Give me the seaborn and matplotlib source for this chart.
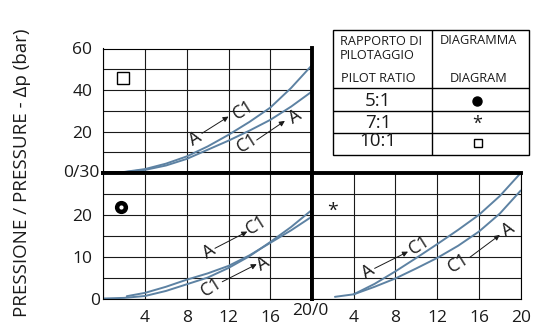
import matplotlib
matplotlib.use("Agg")
import matplotlib.pyplot as plt
from matplotlib.patches import Rectangle
import seaborn as sns

# --- curve data (x = flow, y = pressure) ---
# 10:1 diagram (upper left, y 0..60)
ul_x = [0, 2, 4, 6, 8, 10, 12, 14, 16, 18, 20]
ul_upper = [0, 0.5, 1.9, 4.5, 8.0, 12.8, 18.4, 24.6, 31.5, 41.0, 52.0]
ul_lower = [0, 0.4, 1.5, 3.6, 6.8, 11.2, 15.6, 20.4, 25.6, 32.0, 39.3]

# 5:1 diagram (lower left, y 0..30)
ll_x1 = [0, 2, 4, 6, 8, 10, 12, 14, 16, 18, 20]
ll_y1 = [0, 0.15, 0.6, 1.8, 3.4, 5.0, 7.3, 10.1, 13.5, 17.1, 21.2]
ll_x2 = [2.25, 4, 6, 8, 10, 12, 14, 16, 18, 20]
ll_y2 = [0.55, 1.35, 2.8, 4.5, 6.0, 7.8, 10.3, 13.3, 16.3, 19.6]

# 7:1 diagram (lower right, y 0..30)
lr_x1 = [4, 6, 8, 10, 12, 14, 16, 18, 20]
lr_y1 = [1.0, 3.5, 6.5, 9.7, 13.0, 16.4, 20.0, 24.5, 30.0]
lr_x2 = [2.2, 4, 6, 8, 10, 12, 14, 16, 18, 20]
lr_y2 = [0.4, 1.0, 2.8, 4.8, 7.2, 9.7, 12.6, 16.0, 20.3, 25.8]

x_ticks = [0, 4, 8, 12, 16, 20]
ll_xlabels = ["", "4", "8", "12", "16", ""]
lr_xlabels = ["", "4", "8", "12", "16", "20"]
ul_yticks = [0, 10, 20, 30, 40, 50, 60]
ul_ylabels = ["", "", "20", "", "40", "", "60"]
lo_yticks = [0, 5, 10, 15, 20, 25, 30]
lo_ylabels = ["", "", "10", "", "20", "", ""]

ratios = ["5:1", "7:1", "10:1"]

CURVE = "#5d82a3"
INK = "#1a1a1a"
FS = 12.5

sns.set_theme(style="white")
plt.rcParams["font.family"] = ["Open Sans", "DejaVu Sans"]

W, H = 534, 336
fig = plt.figure(figsize=(W / 100, H / 100), dpi=100)


def frac(x0, y0, x1, y1):
    # pixel box (top-left origin) -> figure fraction rect
    return [x0 / W, (H - y1) / H, (x1 - x0) / W, (y1 - y0) / H]


ax_ul = fig.add_axes(frac(103.3, 48.5, 312, 173))
ax_ll = fig.add_axes(frac(103.3, 173, 312, 298.5))
ax_lr = fig.add_axes(frac(312, 173, 520.7, 298.5))


def setup(ax, ylim, yticks, ylabels, xlabels):
    ax.set_xlim(0, 20)
    ax.set_ylim(*ylim)
    ax.set_xticks(x_ticks)
    ax.set_yticks(yticks)
    ax.set_xticklabels(xlabels)
    ax.set_yticklabels(ylabels)
    ax.grid(True, color=INK, lw=0.8)
    ax.set_axisbelow(True)
    ax.tick_params(length=0, labelsize=FS, labelcolor=INK, pad=8)
    ax.tick_params(axis="x", pad=8)
    for s in ax.spines.values():
        s.set_color("black")
        s.set_linewidth(0.8)
        s.set_visible(True)


setup(ax_ul, (0, 60), ul_yticks, ul_ylabels, [""] * 6)
setup(ax_ll, (0, 30), lo_yticks, lo_ylabels, ll_xlabels)
setup(ax_lr, (0, 30), lo_yticks, [""] * 7, lr_xlabels)

for ax, sides in [(ax_ul, ["right", "bottom"]), (ax_ll, ["top", "right"]),
                  (ax_lr, ["top", "left"])]:
    for s in sides:
        ax.spines[s].set_linewidth(2.8)
        ax.spines[s].set_zorder(5)

# curves
kw = dict(color=CURVE, lw=1.4, estimator=None, sort=False, legend=False)
sns.lineplot(x=ul_x, y=ul_upper, ax=ax_ul, **kw)
sns.lineplot(x=ul_x, y=ul_lower, ax=ax_ul, **kw)
sns.lineplot(x=ll_x1, y=ll_y1, ax=ax_ll, **kw)
sns.lineplot(x=ll_x2, y=ll_y2, ax=ax_ll, **kw)
sns.lineplot(x=lr_x1, y=lr_y1, ax=ax_lr, **kw)
sns.lineplot(x=lr_x2, y=lr_y2, ax=ax_lr, **kw)
for ax in (ax_ul, ax_ll, ax_lr):
    ax.set_xlabel("")
    ax.set_ylabel("")


def flow_label(ax, a_pos, c_pos, tail, head):
    tk = dict(rotation=32, ha="center", va="center", fontsize=13,
              color=INK, rotation_mode="anchor")
    ax.text(*a_pos, "A", **tk)
    ax.text(*c_pos, "C1", **tk)
    ax.annotate("", xy=head, xytext=tail,
                arrowprops=dict(arrowstyle="-|>", lw=0.7, color=INK,
                                mutation_scale=8, shrinkA=0, shrinkB=0))


# A -> C1 and C1 -> A labels
flow_label(ax_ul, (8.8, 16.7), (13.4, 30.4), (9.45, 19.1), (12.0, 27.2))
flow_label(ax_ul, (18.4, 27.2), (13.8, 14.3), (14.7, 15.9), (17.4, 25.1))
flow_label(ax_ll, (10.1, 11.2), (14.7, 17.6), (10.7, 12.0), (13.8, 16.0))
flow_label(ax_ll, (15.3, 8.4), (10.4, 2.8), (11.4, 4.0), (14.7, 8.2))
flow_label(ax_lr, (5.4, 6.4), (10.3, 12.8), (6.0, 7.2), (9.2, 11.2))
flow_label(ax_lr, (18.8, 16.4), (14.0, 8.4), (15.1, 9.8), (18.0, 15.2))

# diagram symbols
ax_ul.plot([1.9], [45.8], marker="s", ms=9, mfc="white", mec="black", mew=1.0)
ax_ll.plot([1.7], [21.8], marker="o", ms=8.5, mfc="black", mec="black")
ax_ll.plot([1.7], [21.8], marker="o", ms=2.0, mfc="white", mec="white")
ax_lr.text(2.0, 21.0, "*", ha="center", va="center", fontsize=14, color=INK)

# special axis labels
fig.text(99 / W, (H - 173.3) / H, "0/30", ha="right", va="center",
         fontsize=FS, color=INK)
fig.text(310.5 / W, (H - 311) / H, "20/0", ha="center", va="center",
         fontsize=FS, color=INK)
fig.text(95 / W, (H - 301) / H, "0", ha="center", va="center",
         fontsize=FS, color=INK)
fig.text(22 / W, (H - 172.5) / H, "PRESSIONE / PRESSURE - \u0394p (bar)",
         rotation=90, ha="center", va="center", fontsize=13.5, color=INK)

# pilot ratio table
tax = fig.add_axes(frac(333.3, 29.7, 529.3, 155.3))
tax.set_xlim(0, 196)
tax.set_ylim(125.6, 0)
tax.axis("off")
tax.add_patch(Rectangle((0, 0), 196, 125.6, fill=False, lw=1.0, ec="black",
                        clip_on=False))
tax.plot([98.4, 98.4], [0, 125.6], color="black", lw=1.0)
for yy in (58.3, 81.6, 103.3):
    tax.plot([0, 196], [yy, yy], color="black", lw=1.0)

hk = dict(fontsize=9.2, color=INK, va="center")
tax.text(6.7, 12.1, "RAPPORTO DI", ha="left", **hk)
tax.text(6.7, 25.5, "PILOTAGGIO", ha="left", **hk)
tax.text(45, 49.3, "PILOT RATIO", ha="center", **hk)
tax.text(145.5, 11.3, "DIAGRAMMA", ha="center", **hk)
tax.text(145.5, 49.3, "DIAGRAM", ha="center", **hk)

row_y = [71.6, 92.8, 111.6]
for r, yy in zip(ratios, row_y):
    tax.text(45, yy, r, ha="center", va="center", fontsize=13.5, color=INK)
tax.plot([144], [row_y[0]], marker="o", ms=6.5, color="black")
tax.text(144, row_y[1] + 1.5, "*", ha="center", va="center", fontsize=13,
         color=INK)
tax.plot([145], [row_y[2] + 2], marker="s", ms=6, mfc="white", mec="black",
         mew=1.0)

fig.savefig("out.png", dpi=100)
